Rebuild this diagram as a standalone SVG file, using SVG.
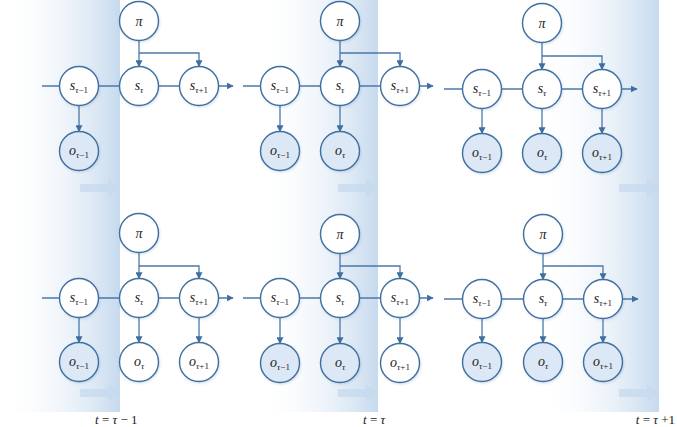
<svg xmlns="http://www.w3.org/2000/svg" width="677" height="427" viewBox="0 0 677 427">
<defs>
<linearGradient id="band" x1="0" y1="0" x2="1" y2="0">
<stop offset="0" stop-color="#ffffff" stop-opacity="0"/>
<stop offset="1" stop-color="#c6daee"/>
</linearGradient>
<marker id="ah" viewBox="0 0 10 10" refX="9" refY="5" markerWidth="7" markerHeight="7" markerUnits="userSpaceOnUse" orient="auto">
<path d="M0,0 L10,5 L0,10 z" fill="#3f6fa0"/>
</marker>
<filter id="sh" x="-30%" y="-30%" width="160%" height="160%">
<feDropShadow dx="0.8" dy="1.2" stdDeviation="1.2" flood-color="#5a7fa8" flood-opacity="0.25"/>
</filter>
<path id="fat" d="M-40,-4 L-12,-4 L-12,-9 L0,0 L-12,9 L-12,4 L-40,4 z"/>
</defs>
<style>
.n{fill:#ffffff;stroke:#3f6fa0;stroke-width:1.4;filter:url(#sh)}
.o{fill:#dce8f5;stroke:#3f6fa0;stroke-width:1.4;filter:url(#sh)}
.a{fill:none;stroke:#4a78a8;stroke-width:1.3;marker-end:url(#ah)}
.t{font-family:"Liberation Serif","DejaVu Serif",serif;font-style:italic;font-size:14px;fill:#222;text-anchor:middle}
.sub{font-size:9px}
.r{font-style:normal}
.lb{font-family:"Liberation Serif","DejaVu Serif",serif;font-size:13px;fill:#222}
.fa{fill:#c4d8ee;opacity:0.7}
</style>

<g id="bands">
<rect x="0" y="0" width="120" height="412" fill="url(#band)"/>
<rect x="258" y="0" width="120" height="412" fill="url(#band)"/>
<rect x="539" y="0" width="120" height="412" fill="url(#band)"/>
<use href="#fat" class="fa" x="120" y="188"/>
<use href="#fat" class="fa" x="378" y="188"/>
<use href="#fat" class="fa" x="659" y="188"/>
<use href="#fat" class="fa" x="120" y="393"/>
<use href="#fat" class="fa" x="378" y="393"/>
<use href="#fat" class="fa" x="659" y="393"/>
</g>

<g id="connectors">
<path class="a" d="M42,86 H233"/>
<path class="a" d="M139,40.5 V66.5"/>
<path class="a" d="M139,53 H199 V66.5"/>
<path class="a" d="M79,105.5 V131.5"/>
<path class="a" d="M243,86 H433"/>
<path class="a" d="M340,40.5 V66.5"/>
<path class="a" d="M340,53 H400 V66.5"/>
<path class="a" d="M280,105.5 V131.5"/>
<path class="a" d="M340,105.5 V131.5"/>
<path class="a" d="M444,89 H637"/>
<path class="a" d="M542,42.5 V69.5"/>
<path class="a" d="M542,56 H602 V69.5"/>
<path class="a" d="M482,108.5 V133.5"/>
<path class="a" d="M542,108.5 V133.5"/>
<path class="a" d="M602,108.5 V133.5"/>
<path class="a" d="M42,298 H233"/>
<path class="a" d="M139,252.5 V278.5"/>
<path class="a" d="M139,266 H199 V278.5"/>
<path class="a" d="M79,317.5 V342.5"/>
<path class="a" d="M139,317.5 V342.5"/>
<path class="a" d="M199,317.5 V342.5"/>
<path class="a" d="M243,298 H433"/>
<path class="a" d="M340,253.5 V278.5"/>
<path class="a" d="M340,266 H400 V278.5"/>
<path class="a" d="M280,317.5 V343.5"/>
<path class="a" d="M340,317.5 V343.5"/>
<path class="a" d="M400,317.5 V343.5"/>
<path class="a" d="M444,299 H638"/>
<path class="a" d="M543,253.5 V279.5"/>
<path class="a" d="M543,266 H603 V279.5"/>
<path class="a" d="M482,318.5 V342.5"/>
<path class="a" d="M543,318.5 V342.5"/>
<path class="a" d="M603,318.5 V342.5"/>
</g>

<g id="tA_pi"><circle class="n" cx="139" cy="21" r="19.5"/><text class="t" x="139" y="26">π</text></g>
<g id="tA_s0"><circle class="n" cx="79" cy="86" r="19.5"/><text class="t" x="79" y="90">s<tspan class="sub" dy="3">τ<tspan class="r">−1</tspan></tspan></text></g>
<g id="tA_s1"><circle class="n" cx="139" cy="86" r="19.5"/><text class="t" x="139" y="90">s<tspan class="sub" dy="3">τ</tspan></text></g>
<g id="tA_s2"><circle class="n" cx="199" cy="86" r="19.5"/><text class="t" x="199" y="90">s<tspan class="sub" dy="3">τ<tspan class="r">+1</tspan></tspan></text></g>
<g id="tA_o0"><circle class="o" cx="79" cy="151" r="19.5"/><text class="t" x="79" y="155">o<tspan class="sub" dy="3">τ<tspan class="r">−1</tspan></tspan></text></g>

<g id="tB_pi"><circle class="n" cx="340" cy="21" r="19.5"/><text class="t" x="340" y="26">π</text></g>
<g id="tB_s0"><circle class="n" cx="280" cy="86" r="19.5"/><text class="t" x="280" y="90">s<tspan class="sub" dy="3">τ<tspan class="r">−1</tspan></tspan></text></g>
<g id="tB_s1"><circle class="n" cx="340" cy="86" r="19.5"/><text class="t" x="340" y="90">s<tspan class="sub" dy="3">τ</tspan></text></g>
<g id="tB_s2"><circle class="n" cx="400" cy="86" r="19.5"/><text class="t" x="400" y="90">s<tspan class="sub" dy="3">τ<tspan class="r">+1</tspan></tspan></text></g>
<g id="tB_o0"><circle class="o" cx="280" cy="151" r="19.5"/><text class="t" x="280" y="155">o<tspan class="sub" dy="3">τ<tspan class="r">−1</tspan></tspan></text></g>
<g id="tB_o1"><circle class="o" cx="340" cy="151" r="19.5"/><text class="t" x="340" y="155">o<tspan class="sub" dy="3">τ</tspan></text></g>

<g id="tC_pi"><circle class="n" cx="542" cy="23" r="19.5"/><text class="t" x="542" y="28">π</text></g>
<g id="tC_s0"><circle class="n" cx="482" cy="89" r="19.5"/><text class="t" x="482" y="93">s<tspan class="sub" dy="3">τ<tspan class="r">−1</tspan></tspan></text></g>
<g id="tC_s1"><circle class="n" cx="542" cy="89" r="19.5"/><text class="t" x="542" y="93">s<tspan class="sub" dy="3">τ</tspan></text></g>
<g id="tC_s2"><circle class="n" cx="602" cy="89" r="19.5"/><text class="t" x="602" y="93">s<tspan class="sub" dy="3">τ<tspan class="r">+1</tspan></tspan></text></g>
<g id="tC_o0"><circle class="o" cx="482" cy="153" r="19.5"/><text class="t" x="482" y="157">o<tspan class="sub" dy="3">τ<tspan class="r">−1</tspan></tspan></text></g>
<g id="tC_o1"><circle class="o" cx="542" cy="153" r="19.5"/><text class="t" x="542" y="157">o<tspan class="sub" dy="3">τ</tspan></text></g>
<g id="tC_o2"><circle class="o" cx="602" cy="153" r="19.5"/><text class="t" x="602" y="157">o<tspan class="sub" dy="3">τ<tspan class="r">+1</tspan></tspan></text></g>

<g id="bA_pi"><circle class="n" cx="139" cy="233" r="19.5"/><text class="t" x="139" y="238">π</text></g>
<g id="bA_s0"><circle class="n" cx="79" cy="298" r="19.5"/><text class="t" x="79" y="302">s<tspan class="sub" dy="3">τ<tspan class="r">−1</tspan></tspan></text></g>
<g id="bA_s1"><circle class="n" cx="139" cy="298" r="19.5"/><text class="t" x="139" y="302">s<tspan class="sub" dy="3">τ</tspan></text></g>
<g id="bA_s2"><circle class="n" cx="199" cy="298" r="19.5"/><text class="t" x="199" y="302">s<tspan class="sub" dy="3">τ<tspan class="r">+1</tspan></tspan></text></g>
<g id="bA_o0"><circle class="o" cx="79" cy="362" r="19.5"/><text class="t" x="79" y="366">o<tspan class="sub" dy="3">τ<tspan class="r">−1</tspan></tspan></text></g>
<g id="bA_o1"><circle class="n" cx="139" cy="362" r="19.5"/><text class="t" x="139" y="366">o<tspan class="sub" dy="3">τ</tspan></text></g>
<g id="bA_o2"><circle class="n" cx="199" cy="362" r="19.5"/><text class="t" x="199" y="366">o<tspan class="sub" dy="3">τ<tspan class="r">+1</tspan></tspan></text></g>

<g id="bB_pi"><circle class="n" cx="340" cy="234" r="19.5"/><text class="t" x="340" y="239">π</text></g>
<g id="bB_s0"><circle class="n" cx="280" cy="298" r="19.5"/><text class="t" x="280" y="302">s<tspan class="sub" dy="3">τ<tspan class="r">−1</tspan></tspan></text></g>
<g id="bB_s1"><circle class="n" cx="340" cy="298" r="19.5"/><text class="t" x="340" y="302">s<tspan class="sub" dy="3">τ</tspan></text></g>
<g id="bB_s2"><circle class="n" cx="400" cy="298" r="19.5"/><text class="t" x="400" y="302">s<tspan class="sub" dy="3">τ<tspan class="r">+1</tspan></tspan></text></g>
<g id="bB_o0"><circle class="o" cx="280" cy="363" r="19.5"/><text class="t" x="280" y="367">o<tspan class="sub" dy="3">τ<tspan class="r">−1</tspan></tspan></text></g>
<g id="bB_o1"><circle class="o" cx="340" cy="363" r="19.5"/><text class="t" x="340" y="367">o<tspan class="sub" dy="3">τ</tspan></text></g>
<g id="bB_o2"><circle class="n" cx="400" cy="363" r="19.5"/><text class="t" x="400" y="367">o<tspan class="sub" dy="3">τ<tspan class="r">+1</tspan></tspan></text></g>

<g id="bC_pi"><circle class="n" cx="543" cy="234" r="19.5"/><text class="t" x="543" y="239">π</text></g>
<g id="bC_s0"><circle class="n" cx="482" cy="299" r="19.5"/><text class="t" x="482" y="303">s<tspan class="sub" dy="3">τ<tspan class="r">−1</tspan></tspan></text></g>
<g id="bC_s1"><circle class="n" cx="543" cy="299" r="19.5"/><text class="t" x="543" y="303">s<tspan class="sub" dy="3">τ</tspan></text></g>
<g id="bC_s2"><circle class="n" cx="603" cy="299" r="19.5"/><text class="t" x="603" y="303">s<tspan class="sub" dy="3">τ<tspan class="r">+1</tspan></tspan></text></g>
<g id="bC_o0"><circle class="o" cx="482" cy="362" r="19.5"/><text class="t" x="482" y="366">o<tspan class="sub" dy="3">τ<tspan class="r">−1</tspan></tspan></text></g>
<g id="bC_o1"><circle class="o" cx="543" cy="362" r="19.5"/><text class="t" x="543" y="366">o<tspan class="sub" dy="3">τ</tspan></text></g>
<g id="bC_o2"><circle class="o" cx="603" cy="362" r="19.5"/><text class="t" x="603" y="366">o<tspan class="sub" dy="3">τ<tspan class="r">+1</tspan></tspan></text></g>

<g id="labels">
<text class="lb" x="95" y="424"><tspan font-style="italic">t</tspan> = <tspan font-style="italic">τ</tspan> − 1</text>
<text class="lb" x="363" y="424"><tspan font-style="italic">t</tspan> = <tspan font-style="italic">τ</tspan></text>
<text class="lb" x="675" y="424" text-anchor="end"><tspan font-style="italic">t</tspan> = <tspan font-style="italic">τ</tspan> +1</text>
</g>
</svg>
